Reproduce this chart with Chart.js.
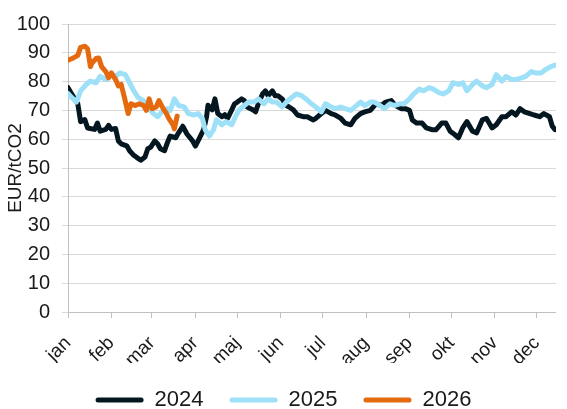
<!DOCTYPE html>
<html>
<head>
<meta charset="utf-8">
<script src="https://cdn.jsdelivr.net/npm/chart.js"></script>
<style>
  html, body { margin: 0; padding: 0; background: #fff; }
  #wrap { width: 567px; height: 409px; }
</style>
</head>
<body>
<div id="wrap"><canvas id="myChart"></canvas></div>
<script>
// month ticks (day of year, leap year)
const monthStarts = [0, 31, 60, 91, 121, 152, 182, 213, 244, 274, 305, 335];
const monthLabels = ["jan", "feb", "mar", "apr", "maj", "jun", "jul", "aug", "sep", "okt", "nov", "dec"];

// 2024 - day of year / EUR per tCO2
const days2024 = [0,2,7,9,12,14,19,21,23,27,29,31,34,36,38,42,44,47,49,52,55,57,59,62,64,66,69,71,73,77,79,82,85,89,91,94,97,99,100,103,105,107,110,112,114,117,119,121,124,126,128,132,134,136,139,141,143,146,148,150,153,156,158,161,164,168,171,175,177,181,184,188,191,195,198,202,205,209,212,216,220,224,227,231,234,238,241,244,246,249,253,256,260,263,267,270,273,276,279,282,285,289,292,296,299,303,306,310,313,317,320,323,326,330,333,337,340,344,346,348];
const eur2024 = [77.9,76.2,72.3,66.1,66.8,63.9,63.4,65.6,62.8,63.4,64.8,63.4,63.7,59.4,58.4,57.7,56,54.4,53.7,52.7,53.8,56.7,57.2,59.4,58.4,56.7,56,58.8,61.1,60.5,62.2,64.5,61.8,59.4,57.6,60.5,63.4,67.8,71.8,70.2,74,68.9,67.8,68.5,67.2,70.2,72.3,72.9,74,73.4,71.2,70.2,69.5,72.3,75.7,76.8,75.1,76.8,75.1,75.1,74,71.7,71.2,70.2,68.4,67.8,67.8,66.7,67.2,68.9,70,68.9,68.4,67.2,65.6,65,67.2,68.9,69.5,70,72.3,71.7,72.9,73.4,71.7,70.6,70.6,70,66.7,65.6,65.6,63.9,63.3,63.3,65.6,65.6,62.8,61.7,60.5,63.9,66.1,62.8,62.2,66.7,67.2,63.9,65,67.8,67.8,69.5,68.4,70.6,69.5,68.9,68.4,67.8,68.9,67.8,64.5,63.3];

// 2025
const days2025 = [0,2,6,9,13,16,20,23,27,30,34,37,41,44,47,50,54,57,61,64,68,71,73,76,79,83,86,90,93,96,98,101,104,106,110,113,117,119,122,126,129,133,136,140,143,146,149,153,156,160,163,167,170,174,177,181,184,188,191,195,198,202,205,209,212,216,219,223,226,230,233,237,240,244,247,251,254,258,261,265,268,272,275,279,282,285,289,292,296,299,303,306,310,313,317,320,324,327,331,334,338,341,345,348];
const eur2025 = [75.9,74.8,72.9,76.8,79,80.2,79.6,81.8,80.7,82.4,81.8,83,82.4,79.6,76.8,74.5,73.4,71.2,68.9,67.8,70,70.6,70,74,71.7,71.2,68.9,68.4,68.9,67.2,63.3,61.1,63.3,66.7,65,66.1,65,67.2,70,71.7,72.9,72.9,74,72.3,74,72.9,72.9,71.2,72.9,74.5,75.7,75.1,74,72.3,71.2,69.5,72.3,71.2,70.6,71.2,70.6,70,71.2,72.9,71.7,72.9,72.9,71.7,70.6,72.3,71.7,72.3,72.3,74,75.7,77.4,76.8,77.9,77.4,76.2,75.7,76.8,79.6,79,79.6,76.8,79,80.2,78.5,77.9,79,82.4,80.2,81.8,80.7,80.7,81.3,81.8,83.5,83,83,84.1,85.2,85.7];

// 2026
const days2026 = [0,3,7,9,12,14,16,17,20,22,24,27,29,31,34,36,38,40,43,45,48,51,54,56,58,60,63,65,68,70,72,75,76,78];
const eur2026 = [87.4,88,89.1,91.9,92.3,91.4,85.2,86.3,88,88.2,85.2,83.5,81.3,83,80.7,78.5,79,75.1,68.9,72.3,71.7,72.3,71.7,70,74,70.6,71.2,73.4,70.6,69.2,67.2,65,63.6,68];

function toPoints(days, vals) {
  return days.map((d, i) => ({ x: d, y: vals[i] }));
}

Chart.defaults.font.family = "'Liberation Sans', Arial, sans-serif";
Chart.defaults.color = "#1a1a1a";

new Chart("myChart", {
  type: "line",
  data: {
    datasets: [{
      label: "2024",
      data: toPoints(days2024, eur2024),
      borderColor: "#04161f",
      backgroundColor: "#04161f",
      order: 3
    }, {
      label: "2025",
      data: toPoints(days2025, eur2025),
      borderColor: "#9ee0f7",
      backgroundColor: "#9ee0f7",
      order: 2
    }, {
      label: "2026",
      data: toPoints(days2026, eur2026),
      borderColor: "#e4690f",
      backgroundColor: "#e4690f",
      order: 1
    }]
  },
  options: {
    responsive: true,
    maintainAspectRatio: false,
    animation: false,
    layout: { padding: { top: 14, right: 0, left: 0, bottom: -12 } },
    elements: {
      point: { radius: 0 },
      line: { borderWidth: 5, tension: 0, borderJoinStyle: "round", borderCapStyle: "round" }
    },
    plugins: {
      tooltip: { enabled: false },
      legend: {
        position: "bottom",
        labels: {
          boxWidth: 48,
          boxHeight: 5,
          useBorderRadius: true,
          borderRadius: 2.5,
          padding: 26,
          font: { size: 22 },
          sort: (a, b) => a.datasetIndex - b.datasetIndex,
          generateLabels: (chart) =>
            Chart.defaults.plugins.legend.labels.generateLabels(chart).map(l => ({ ...l, lineWidth: 0 }))
        }
      }
    },
    scales: {
      x: {
        type: "linear",
        min: 0,
        max: 348.6,
        afterBuildTicks: (scale) => { scale.ticks = monthStarts.map(v => ({ value: v })); },
        afterFit: (scale) => { scale.height = 51; },
        ticks: {
          autoSkip: false,
          minRotation: 45,
          maxRotation: 45,
          padding: 14,
          font: { size: 19 },
          callback: (v) => monthLabels[monthStarts.indexOf(v)]
        },
        grid: { drawOnChartArea: false, color: "#bfbfbf", tickLength: 6 },
        border: { color: "#bfbfbf" }
      },
      y: {
        min: 0,
        max: 100,
        afterFit: (scale) => { scale.width = 68; },
        ticks: { stepSize: 10, padding: 12, font: { size: 20 } },
        grid: { color: "#d9d9d9", tickLength: 6 },
        border: { color: "#bfbfbf" },
        title: { display: true, text: "EUR/tCO2", font: { size: 19 }, padding: { top: 4, bottom: 0 } }
      }
    }
  }
});
</script>
</body>
</html>
